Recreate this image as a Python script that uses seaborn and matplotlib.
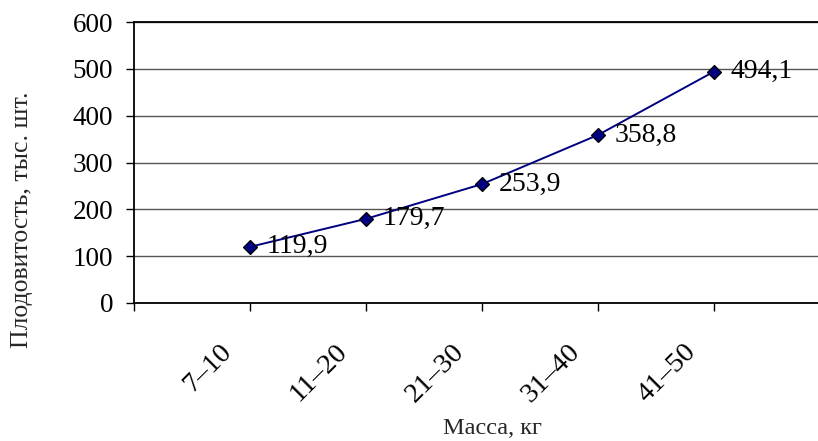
import matplotlib
matplotlib.use("Agg")
import matplotlib.pyplot as plt
import matplotlib.transforms as mtransforms
import seaborn as sns
import pandas as pd

# Масса самок (кг) и плодовитость (тыс. шт.)
mass_groups = ["7–10", "11–20", "21–30", "31–40", "41–50"]
fecundity = [119.9, 179.7, 253.9, 358.8, 494.1]
y_ticks = [0, 100, 200, 300, 400, 500, 600]

df = pd.DataFrame({"mass": mass_groups, "fecundity": fecundity})

sns.set_theme(style="white")
plt.rcParams["font.family"] = ["Liberation Serif", "DejaVu Serif"]

W, H, DPI = 818, 441, 100
fig = plt.figure(figsize=(W / DPI, H / DPI), dpi=DPI)
left, right, top, bottom = 134, 830, 22, 303
ax = fig.add_axes([left / W, 1 - bottom / H, (right - left) / W, (bottom - top) / H])

sns.lineplot(data=df, x="mass", y="fecundity", ax=ax, color="#000080",
             linewidth=1.4, marker="D", markersize=7,
             markerfacecolor="#000080", markeredgecolor="black",
             markeredgewidth=0.9, sort=False, zorder=3)

ax.set_xlim(-1, len(mass_groups))
ax.set_ylim(0, 600)
ax.set_yticks(y_ticks)
ax.set_yticklabels([str(v) for v in y_ticks], fontsize=19.5)
ax.set_xticks(range(-1, len(mass_groups) + 1))
ax.set_xticklabels([])

ax.tick_params(axis="both", direction="out", length=6, width=1.0,
               color="black", labelcolor="black", bottom=True, left=True)
ax.tick_params(axis="y", pad=9)

# подписи категорий под углом 45°
lbl_trans = ax.get_xaxis_transform() + mtransforms.ScaledTranslation(
    -22 / DPI, -45 / DPI, fig.dpi_scale_trans)
for i, name in enumerate(mass_groups):
    ax.text(i, 0, name, transform=lbl_trans, rotation=45, rotation_mode="anchor",
            ha="right", va="center", fontsize=20.5, color="black")

ax.grid(axis="y", color="#555555", linewidth=1.0)
ax.grid(axis="x", visible=False)
ax.set_axisbelow(True)
for side in ["left", "bottom", "top", "right"]:
    ax.spines[side].set_visible(True)
    ax.spines[side].set_color("black")
    ax.spines[side].set_linewidth(1.3)

# подписи значений справа от точек
for i, v in enumerate(fecundity):
    ax.annotate(f"{v:.1f}".replace(".", ","), xy=(i, v), xytext=(12, 0),
                textcoords="offset points", ha="left", va="center",
                fontsize=20, color="black", zorder=4)

ax.set_xlabel("")
ax.set_ylabel("")
fig.text(492 / W, 1 - 428 / H, "Масса, кг", ha="center", va="center", fontsize=17.5)
fig.text(22 / W, 1 - 220 / H, "Плодовитость, тыс. шт.", ha="center", va="center",
         rotation=90, fontsize=18.5)

fig.savefig("out.png", dpi=DPI, facecolor="white")
